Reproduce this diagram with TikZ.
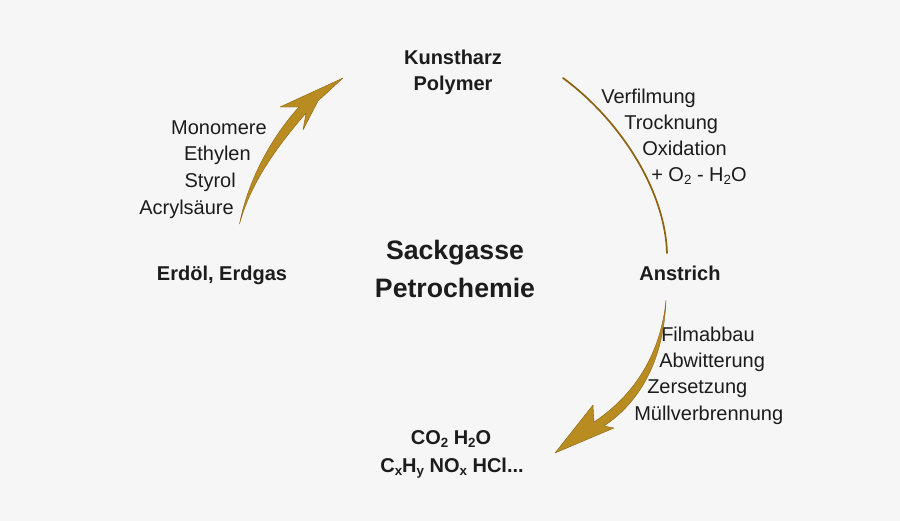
\documentclass[tikz,border=0pt]{standalone}
\usepackage{fontspec}
\setmainfont{Liberation Sans}
\definecolor{bgc}{RGB}{246,246,246}
\definecolor{txt}{RGB}{28,28,28}
\definecolor{gold}{RGB}{184,140,32}
\definecolor{goldedge}{RGB}{140,100,18}
\newcommand\chsub[1]{\raisebox{-0.35ex}{\fontsize{10}{10}\selectfont #1}}
\tikzset{
  lbl/.style={inner sep=0pt, text=txt, font=\fontsize{15}{18}\selectfont},
  blbl/.style={lbl, font=\fontsize{15}{18}\selectfont\bfseries},
  big/.style={inner sep=0pt, text=txt, font=\fontsize{20}{24}\selectfont\bfseries},
  swoosh/.style={fill=gold, draw=goldedge, line width=0.3pt, line join=round},
  thinarc/.style={draw=goldedge, line width=1.3pt, line cap=round}
}
\begin{document}
\begin{tikzpicture}[x=0.75pt,y=-0.75pt]
\fill[bgc] (0,0) rectangle (900,521);
\useasboundingbox (0,0) rectangle (900,521);

% centre
\node[big, anchor=base] (sack) at (455,259) {Sackgasse};
\node[big, anchor=base] (petro) at (455,297) {Petrochemie};

% top
\node[blbl, anchor=base] (kunst) at (453,64) {Kunstharz};
\node[blbl, anchor=base] (poly) at (453,90) {Polymer};

% left
\node[blbl, anchor=base] (erdoel) at (222,280) {Erdöl, Erdgas};
\node[lbl, anchor=base east] (mono) at (267,134) {Monomere};
\node[lbl, anchor=base east] (ethy) at (251,160) {Ethylen};
\node[lbl, anchor=base east] (styr) at (236,187) {Styrol};
\node[lbl, anchor=base east] (acry) at (234,214) {Acrylsäure};

% right
\node[blbl, anchor=base] (anstr) at (680,280) {Anstrich};
\node[lbl, anchor=base west] (verf) at (601,103) {Verfilmung};
\node[lbl, anchor=base west] (trock) at (624,129) {Trocknung};
\node[lbl, anchor=base west] (oxid) at (642,155) {Oxidation};
\node[lbl, anchor=base west] (otwo) at (651,181) {+ O\chsub{2} - H\chsub{2}O};
\node[lbl, anchor=base west] (film) at (661,341) {Filmabbau};
\node[lbl, anchor=base west] (abwi) at (659,367) {Abwitterung};
\node[lbl, anchor=base west] (zers) at (647,393) {Zersetzung};
\node[lbl, anchor=base west] (muell) at (634,420) {Müllverbrennung};

% bottom
\node[blbl, anchor=base] (co2) at (451,444) {CO\chsub{2} H\chsub{2}O};
\node[blbl, anchor=base] (cxhy) at (452,472) {C\chsub{x}H\chsub{y} NO\chsub{x} HCl...};

% left swoosh arrow (up)
\path[swoosh] (343,78) -- (280,107) -- (299,107)
  .. controls (276,132) and (249,175) .. (239.5,224)
  .. controls (252,178) and (283,140) .. (306,113)
  -- (303,130) -- (318,101) -- cycle;

% thin arc top right
\draw[thinarc] (563,78) .. controls (620,120) and (665,190) .. (667,253);

% bottom right swoosh arrow (down)
\path[swoosh] (555,453) -- (593,405) -- (594,422)
  .. controls (636,394) and (661,352) .. (666,300)
  .. controls (664,356) and (643,400) .. (604,426)
  -- (614,428) -- cycle;
\end{tikzpicture}
\end{document}
